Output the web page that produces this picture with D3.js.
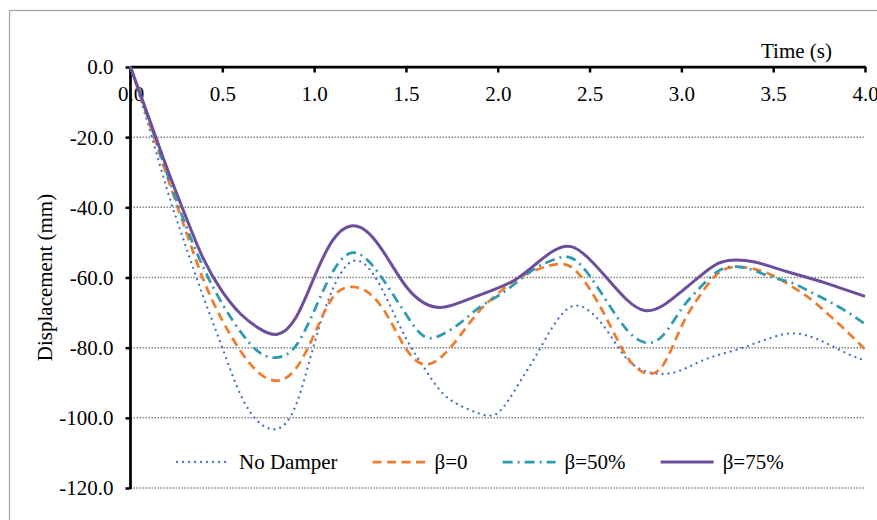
<!DOCTYPE html>
<html>
<head>
<meta charset="utf-8">
<script src="https://cdn.jsdelivr.net/npm/d3@7"></script>
<style>
  html, body { margin: 0; padding: 0; background: #fff; }
  svg { display: block; }
  text { font-family: "Liberation Serif", "Times New Roman", serif; fill: #000; }
</style>
</head>
<body>
<svg id="chart" width="877" height="520"></svg>
<script>
// Time samples (s)
const time = [0.0,0.1,0.2,0.3,0.4,0.5,0.6,0.7,0.8,0.9,1.0,1.1,1.2,1.3,1.4,1.5,1.6,1.7,1.8,1.9,
              2.0,2.1,2.2,2.3,2.4,2.5,2.6,2.7,2.8,2.9,3.0,3.1,3.2,3.3,3.4,3.5,3.6,3.7,3.8,3.9,4.0];

// Displacement (mm) for each damper configuration
const noDamper = [0,-17,-35,-51,-66,-80,-93.5,-101.3,-103.1,-96.5,-79,-63.5,-55.6,-57.5,-66.5,-77.3,-85.8,-93,-96.6,-98.8,
                  -98.6,-91.5,-83,-74,-68.3,-69.6,-75.5,-83,-86.6,-87.5,-86.4,-84,-82.1,-80.6,-78.8,-77,-75.9,-76.8,-79,-81.6,-83.7];
const beta0 = [0,-15.5,-31.3,-46.5,-61,-72.2,-81,-87.2,-89.4,-86,-76.3,-65.8,-62.7,-64.5,-71,-80.3,-84.8,-82.3,-76.2,-69.5,
               -64.6,-60.6,-58,-56.4,-57,-63.2,-72.4,-82.3,-87.2,-85,-74,-65.2,-58.8,-57,-57.6,-59.5,-62.5,-66,-70.5,-75.3,-80.5];
const beta50 = [0,-15,-30.5,-45,-57.5,-67.5,-75.5,-81.3,-82.8,-79.5,-69.5,-58.5,-53,-55.5,-62.5,-70.5,-76.8,-76.2,-72.8,-68.5,
                -65.3,-61.5,-57.5,-55,-54.4,-59.5,-67.3,-74.7,-78.5,-76.5,-69,-63,-58.2,-56.9,-58.1,-60,-61.5,-64,-66.7,-69.7,-73.3];
const beta75 = [0,-14.5,-29,-42.5,-55,-64,-70.4,-74.5,-76.2,-71.5,-60,-49.5,-45.3,-47.5,-54.5,-62.5,-67.3,-68.5,-67,-65,
                -63,-60.5,-56.5,-52.5,-51.2,-54.8,-60.5,-66.2,-69.4,-68,-64,-59.7,-56,-55,-55.6,-57.1,-58.7,-60.2,-61.8,-63.6,-65.4];

const seriesNames = ["No Damper", "β=0", "β=50%", "β=75%"];
const xTicks = [0, 0.5, 1.0, 1.5, 2.0, 2.5, 3.0, 3.5, 4.0];
const yTicks = [0, -20, -40, -60, -80, -100, -120];

const series = [
  { name: seriesNames[0], values: noDamper, color: "#4472c4", width: 2.3, dash: "0.01,6", cap: "round" },
  { name: seriesNames[1], values: beta0,    color: "#ed7d31", width: 2.75, dash: "9,5.5", cap: "butt" },
  { name: seriesNames[2], values: beta50,   color: "#2f9ab2", width: 2.75, dash: "10,5,2,5", cap: "butt" },
  { name: seriesNames[3], values: beta75,   color: "#6c4e9b", width: 3, dash: null, cap: "butt" }
];

// One-decimal labels with an ASCII hyphen for negatives
const fmt = d => d3.format(".1f")(d).replace("\u2212", "-");

const svg = d3.select("#chart");

// Outer chart border
svg.append("rect")
  .attr("x", 9.5).attr("y", 10.5)
  .attr("width", 880).attr("height", 520)
  .attr("fill", "none").attr("stroke", "#a6a6a6").attr("stroke-width", 1.25);

const x = d3.scaleLinear().domain([0, 4]).range([130.5, 865]);
const y = d3.scaleLinear().domain([-120, 0]).range([488, 67]);

// Horizontal dotted gridlines
svg.append("g")
  .selectAll("line")
  .data(yTicks.filter(d => d !== 0))
  .join("line")
  .attr("x1", x(0)).attr("x2", x(4))
  .attr("y1", d => y(d)).attr("y2", d => y(d))
  .attr("stroke", "#858585").attr("stroke-width", 1.5)
  .attr("stroke-dasharray", "1.5,1.5");

// Y axis (left)
const yAxis = svg.append("g")
  .attr("transform", `translate(${x(0)},0)`)
  .call(d3.axisLeft(y).tickValues(yTicks).tickFormat(fmt).tickSize(5).tickPadding(12));
yAxis.select(".domain").remove();
yAxis.selectAll(".tick line").attr("stroke", "#000").attr("stroke-width", 2.5);
yAxis.selectAll(".tick text").attr("font-size", 21).attr("dy", "0.33em");

// X axis (top, at zero displacement) with labels beneath
const xAxis = svg.append("g")
  .attr("transform", `translate(0,${y(0)})`)
  .call(d3.axisBottom(x).tickValues(xTicks).tickFormat(fmt).tickSize(5.5).tickPadding(14));
xAxis.select(".domain").remove();
xAxis.selectAll(".tick line").attr("stroke", "#000").attr("stroke-width", 2.5);
xAxis.selectAll(".tick text").attr("font-size", 21);

// Axis lines
svg.append("line")
  .attr("x1", x(0)).attr("x2", x(4) + 1).attr("y1", y(0)).attr("y2", y(0))
  .attr("stroke", "#000").attr("stroke-width", 2.75);
svg.append("line")
  .attr("x1", x(0)).attr("x2", x(0)).attr("y1", y(0) - 1).attr("y2", y(-120) + 1)
  .attr("stroke", "#000").attr("stroke-width", 2.75);

// Axis titles
svg.append("text")
  .attr("x", 832).attr("y", 58)
  .attr("text-anchor", "end").attr("font-size", 21)
  .text("Time (s)");
svg.append("text")
  .attr("transform", `translate(52,${(y(0) + y(-120)) / 2}) rotate(-90)`)
  .attr("text-anchor", "middle").attr("font-size", 21)
  .text("Displacement (mm)");

// Series lines
const line = d3.line()
  .x((d, i) => x(time[i]))
  .y(d => y(d))
  .curve(d3.curveNatural);

svg.append("g")
  .selectAll("path")
  .data(series)
  .join("path")
  .attr("d", d => line(d.values))
  .attr("fill", "none")
  .attr("stroke", d => d.color)
  .attr("stroke-width", d => d.width)
  .attr("stroke-dasharray", d => d.dash)
  .attr("stroke-linecap", d => d.cap)
  .attr("stroke-linejoin", "round");

// Legend
const legend = svg.append("g");
let lx = 177;
const ly = 462;
series.forEach(s => {
  legend.append("line")
    .attr("x1", lx).attr("x2", lx + 53)
    .attr("y1", ly).attr("y2", ly)
    .attr("stroke", s.color).attr("stroke-width", s.width)
    .attr("stroke-dasharray", s.dash).attr("stroke-linecap", s.cap);
  const t = legend.append("text")
    .attr("x", lx + 62).attr("y", ly + 7)
    .attr("font-size", 21)
    .text(s.name);
  lx = lx + 62 + t.node().getComputedTextLength() + 35;
});
</script>
</body>
</html>
